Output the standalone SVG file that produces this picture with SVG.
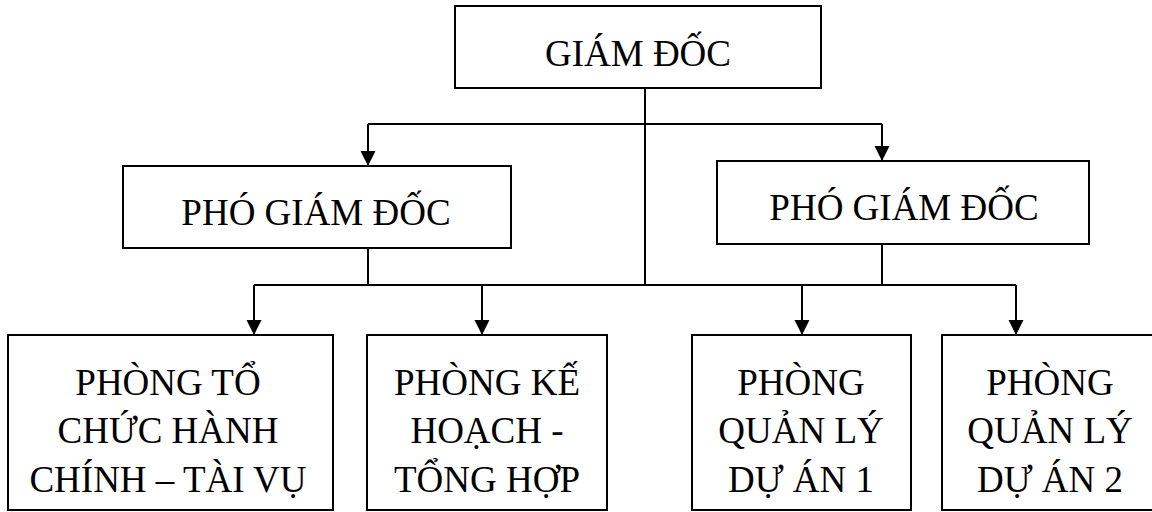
<svg xmlns="http://www.w3.org/2000/svg" width="1152" height="512" viewBox="0 0 1152 512">
  <style>
    .box { fill: #ffffff; stroke: #000000; stroke-width: 2; }
    .lbl { font-family: "Liberation Serif", "Times New Roman", serif; font-size: 37px; fill: #000000; text-anchor: middle; }
    .ln { fill: none; stroke: #000000; stroke-width: 2; }
  </style>
  <defs>
    <marker id="arr" markerUnits="userSpaceOnUse" markerWidth="16" markerHeight="16" refX="15" refY="7.5" orient="auto">
      <path d="M0,0 L15,7.5 L0,15 Z" fill="#000000"/>
    </marker>
  </defs>
  <rect width="1152" height="512" fill="#ffffff"/>

  <g id="connectors">
    <path class="ln" d="M645,88 V285"/>
    <path class="ln" d="M368,124 H882"/>
    <path class="ln" d="M368,124 V166" marker-end="url(#arr)"/>
    <path class="ln" d="M882,124 V161" marker-end="url(#arr)"/>
    <path class="ln" d="M368,248 V285"/>
    <path class="ln" d="M882,244 V285"/>
    <path class="ln" d="M254,285 H1016"/>
    <path class="ln" d="M254,285 V335" marker-end="url(#arr)"/>
    <path class="ln" d="M482,285 V335" marker-end="url(#arr)"/>
    <path class="ln" d="M802,285 V335" marker-end="url(#arr)"/>
    <path class="ln" d="M1016,285 V335" marker-end="url(#arr)"/>
  </g>

  <g id="giam-doc">
    <rect class="box" x="455" y="6" width="366" height="82"/>
    <text class="lbl" x="638" y="66">GIÁM ĐỐC</text>
  </g>
  <g id="pho-giam-doc-1">
    <rect class="box" x="123" y="166" width="388" height="82"/>
    <text class="lbl" x="316" y="225">PHÓ GIÁM ĐỐC</text>
  </g>
  <g id="pho-giam-doc-2">
    <rect class="box" x="717" y="161" width="372" height="83"/>
    <text class="lbl" x="904" y="220">PHÓ GIÁM ĐỐC</text>
  </g>
  <g id="phong-tchc">
    <rect class="box" x="8" y="335" width="325" height="175"/>
    <text class="lbl" x="168" y="395">PHÒNG TỔ</text>
    <text class="lbl" x="168" y="443">CHỨC HÀNH</text>
    <text class="lbl" x="168" y="492">CHÍNH – TÀI VỤ</text>
  </g>
  <g id="phong-khth">
    <rect class="box" x="367" y="335" width="240" height="175"/>
    <text class="lbl" x="487" y="395">PHÒNG KẾ</text>
    <text class="lbl" x="487" y="443">HOẠCH -</text>
    <text class="lbl" x="487" y="492">TỔNG HỢP</text>
  </g>
  <g id="phong-qlda1">
    <rect class="box" x="692" y="335" width="219" height="175"/>
    <text class="lbl" x="801" y="395">PHÒNG</text>
    <text class="lbl" x="801" y="443">QUẢN LÝ</text>
    <text class="lbl" x="801" y="492">DỰ ÁN 1</text>
  </g>
  <g id="phong-qlda2">
    <rect class="box" x="942" y="335" width="216" height="175"/>
    <text class="lbl" x="1050" y="395">PHÒNG</text>
    <text class="lbl" x="1050" y="443">QUẢN LÝ</text>
    <text class="lbl" x="1050" y="492">DỰ ÁN 2</text>
  </g>
</svg>
